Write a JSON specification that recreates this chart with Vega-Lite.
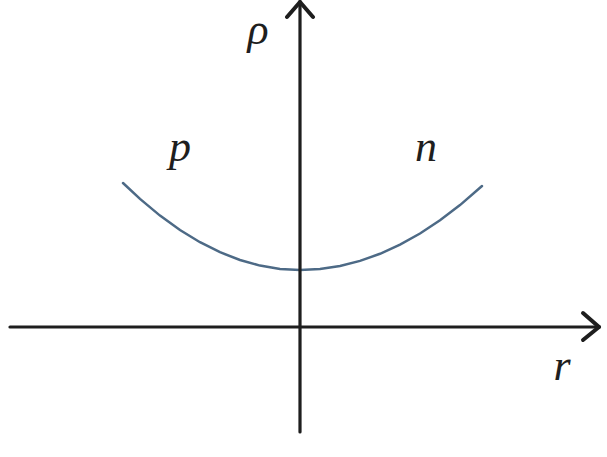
{
  "$schema": "https://vega.github.io/schema/vega-lite/v6.json",
  "width": 607,
  "height": 457,
  "autosize": {"type": "fit", "contains": "padding"},
  "padding": 0,
  "background": "white",
  "config": {"view": {"stroke": null}, "axis": {"domain": false}},
  "datasets": {
    "segments": [
      {"part": "r axis", "x": -290, "y": 0, "x2": 298, "y2": 0, "weight": 3.2},
      {"part": "rho axis", "x": 0, "y": -105, "x2": 0, "y2": 324, "weight": 3.2},
      {"part": "r arrow upper", "x": 283, "y": 14, "x2": 299, "y2": 0, "weight": 4},
      {"part": "r arrow lower", "x": 283, "y": -13, "x2": 299, "y2": 0, "weight": 4},
      {"part": "rho arrow left", "x": -13, "y": 310, "x2": 0, "y2": 325, "weight": 4},
      {"part": "rho arrow right", "x": 13, "y": 310, "x2": 0, "y2": 325, "weight": 4}
    ],
    "curve": [
      {"r": -177, "rho": 144},
      {"r": -160, "rho": 128.1},
      {"r": -140, "rho": 111.4},
      {"r": -120, "rho": 97.0},
      {"r": -100, "rho": 84.8},
      {"r": -80, "rho": 74.8},
      {"r": -60, "rho": 67.0},
      {"r": -40, "rho": 61.4},
      {"r": -20, "rho": 58.1},
      {"r": 0, "rho": 57},
      {"r": 20, "rho": 58.0},
      {"r": 40, "rho": 61.1},
      {"r": 60, "rho": 66.1},
      {"r": 80, "rho": 73.2},
      {"r": 100, "rho": 82.4},
      {"r": 120, "rho": 93.5},
      {"r": 140, "rho": 106.7},
      {"r": 160, "rho": 121.9},
      {"r": 182, "rho": 141}
    ],
    "labels": [
      {"text": "ρ", "x": -42, "y": 283},
      {"text": "p", "x": -120, "y": 166},
      {"text": "n", "x": 126, "y": 166},
      {"text": "r", "x": 262, "y": -53}
    ]
  },
  "layer": [
    {
      "data": {"name": "curve"},
      "mark": {"type": "line", "color": "#4d6a86", "strokeWidth": 2.5, "strokeCap": "round"},
      "encoding": {
        "x": {"field": "r", "type": "quantitative", "scale": {"domain": [-300, 307], "nice": false, "zero": false}, "axis": null},
        "y": {"field": "rho", "type": "quantitative", "scale": {"domain": [-130, 327], "nice": false, "zero": false}, "axis": null}
      }
    },
    {
      "data": {"name": "segments"},
      "mark": {"type": "rule", "color": "#1e1e1e", "strokeCap": "round"},
      "encoding": {
        "x": {"field": "x", "type": "quantitative", "scale": {"domain": [-300, 307], "nice": false, "zero": false}, "axis": null},
        "y": {"field": "y", "type": "quantitative", "scale": {"domain": [-130, 327], "nice": false, "zero": false}, "axis": null},
        "x2": {"field": "x2"},
        "y2": {"field": "y2"},
        "strokeWidth": {"field": "weight", "type": "quantitative", "scale": null, "legend": null}
      }
    },
    {
      "data": {"name": "labels"},
      "mark": {"type": "text", "font": "Liberation Serif", "fontStyle": "italic", "fontSize": 44, "align": "center", "baseline": "alphabetic", "color": "#1e1e1e"},
      "encoding": {
        "x": {"field": "x", "type": "quantitative", "scale": {"domain": [-300, 307], "nice": false, "zero": false}, "axis": null},
        "y": {"field": "y", "type": "quantitative", "scale": {"domain": [-130, 327], "nice": false, "zero": false}, "axis": null},
        "text": {"field": "text"}
      }
    }
  ]
}
